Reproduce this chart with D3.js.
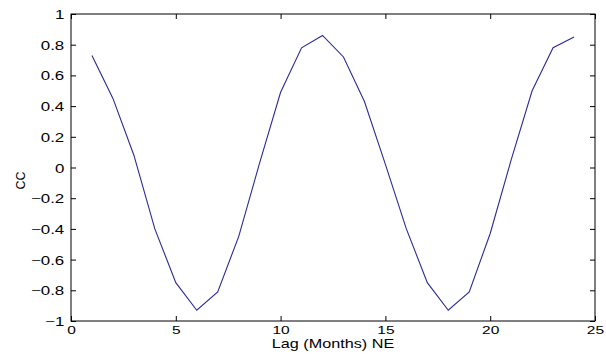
<!DOCTYPE html>
<html>
<head>
<meta charset="utf-8">
<script src="https://cdn.jsdelivr.net/npm/d3@7"></script>
<style>
    body { margin: 0; background: #fff; }
    svg { display: block; }
    text { font-family: Arial, "Liberation Sans", sans-serif; fill: #000; }
</style>
</head>
<body>
<svg id="chart" width="606" height="355"></svg>
<script>
// lag in months and cross-correlation
const lags = [1, 2, 3, 4, 5, 6, 7, 8, 9, 10, 11, 12, 13, 14, 15, 16, 17, 18, 19, 20, 21, 22, 23, 24];
const cc = [0.73, 0.45, 0.08, -0.40, -0.75, -0.93, -0.81, -0.45, 0.03, 0.49, 0.78, 0.86,
            0.72, 0.43, 0.02, -0.40, -0.75, -0.93, -0.81, -0.43, 0.05, 0.50, 0.78, 0.85];
const xTicks = [0, 5, 10, 15, 20, 25];
const yTicks = [-1, -0.8, -0.6, -0.4, -0.2, 0, 0.2, 0.4, 0.6, 0.8, 1];
const xLabel = "Lag (Months) NE";
const yLabel = "CC";

const plot = { left: 71, right: 595, top: 14, bottom: 321 };
const stretch = 1.35; // the source text is drawn wide

const svg = d3.select("#chart");

const x = d3.scaleLinear().domain([0, 25]).range([plot.left, plot.right]);
const y = d3.scaleLinear().domain([-1, 1]).range([plot.bottom, plot.top]);

// box with inward ticks on all four sides, like matlab
function styleAxis(g, size = 12.5) {
    g.select(".domain").remove();
    g.selectAll(".tick line").attr("stroke", "#000");
    g.selectAll("text").attr("font-size", size);
}

svg.append("g")
    .attr("transform", `translate(0,${plot.bottom})`)
    .call(d3.axisBottom(x).tickValues(xTicks).tickSize(-5).tickPadding(5).tickFormat(d3.format("")))
    .call(styleAxis, 11.5)
    .selectAll("text")
    .attr("dy", "0.71em")
    .attr("transform", `scale(${stretch},1)`);

svg.append("g")
    .attr("transform", `translate(0,${plot.top})`)
    .call(d3.axisTop(x).tickValues(xTicks).tickSize(-5).tickFormat(""))
    .call(styleAxis);

svg.append("g")
    .attr("transform", `translate(${plot.left},0)`)
    .call(d3.axisLeft(y).tickValues(yTicks).tickSize(-5).tickPadding(5).tickFormat(d3.format("")))
    .call(styleAxis)
    .selectAll("text")
    .attr("dy", "0.36em")
    .attr("transform", `scale(${stretch},1)`);

svg.append("g")
    .attr("transform", `translate(${plot.right},0)`)
    .call(d3.axisRight(y).tickValues(yTicks).tickSize(-5).tickFormat(""))
    .call(styleAxis);

svg.append("rect")
    .attr("x", plot.left)
    .attr("y", plot.top)
    .attr("width", plot.right - plot.left)
    .attr("height", plot.bottom - plot.top)
    .attr("fill", "none")
    .attr("stroke", "#000")
    .attr("stroke-width", 1);

const line = d3.line()
    .x((d, i) => x(lags[i]))
    .y(d => y(d));

svg.append("path")
    .datum(cc)
    .attr("d", line)
    .attr("fill", "none")
    .attr("stroke", "#2a2a96")
    .attr("stroke-width", 1.1);

svg.append("text")
    .attr("transform", `translate(${(plot.left + plot.right) / 2},348) scale(${stretch},1)`)
    .attr("text-anchor", "middle")
    .attr("font-size", 12)
    .text(xLabel);

svg.append("text")
    .attr("transform", `translate(25,${(plot.top + plot.bottom) / 2 + 13}) rotate(-90)`)
    .attr("text-anchor", "middle")
    .attr("font-size", 12.5)
    .text(yLabel);
</script>
</body>
</html>
